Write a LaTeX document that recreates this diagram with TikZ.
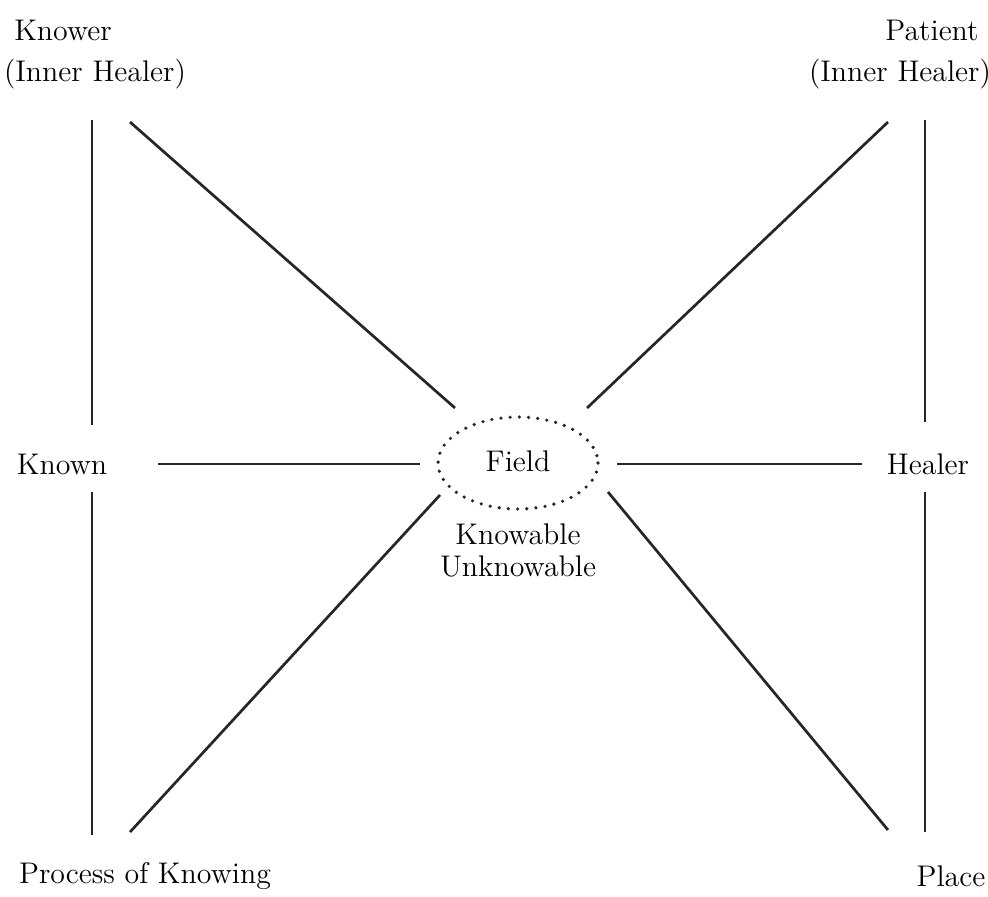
\documentclass[tikz,border=0pt]{standalone}
\begin{document}
\begin{tikzpicture}[x=0.5pt,y=-0.5pt,
  lbl/.style={inner sep=0pt,font=\fontsize{14.5}{17}\selectfont,scale=1.03},
  ln/.style={line width=1.35pt,black!85},
  dotring/.style={draw,line width=1.8pt,dash pattern=on 0pt off 4.6pt,line cap=round,black!85}]
\useasboundingbox (0,0) rectangle (988,896);
% labels
\node[lbl] (knower) at (63,30) {Knower};
\node[lbl] (knowerih) at (95,74) {(Inner Healer)};
\node[lbl] (patient) at (932,30) {Patient};
\node[lbl] (patientih) at (900,74) {(Inner Healer)};
\node[lbl] (known) at (62,464) {Known};
\node[lbl] (healer) at (928,464) {Healer};
\node[lbl] (process) at (145,876) {Process of Knowing};
\node[lbl] (place) at (951,876) {Place};
\node[lbl] (knowable) at (518,534) {Knowable};
\node[lbl] (unknowable) at (518,566) {Unknowable};
% field
\draw[dotring] (518,463) ellipse [x radius=80, y radius=46];
\node[lbl] (field) at (518,461) {Field};
% endpoints
\coordinate (lv1a) at (92,120); \coordinate (lv1b) at (92,425);
\coordinate (lv2a) at (92,492); \coordinate (lv2b) at (92,835);
\coordinate (rv1a) at (925,120); \coordinate (rv1b) at (925,422);
\coordinate (rv2a) at (925,492); \coordinate (rv2b) at (925,832);
\coordinate (hla) at (158,464); \coordinate (hlb) at (420,464);
\coordinate (hra) at (617,464); \coordinate (hrb) at (862,464);
\coordinate (tla) at (130,122); \coordinate (tlb) at (455,408);
\coordinate (tra) at (888,122); \coordinate (trb) at (587,408);
\coordinate (bla) at (130,832); \coordinate (blb) at (440,495);
\coordinate (bra) at (888,830); \coordinate (brb) at (608,492);
% lines
\draw[ln] (lv1a) -- (lv1b);
\draw[ln] (lv2a) -- (lv2b);
\draw[ln] (rv1a) -- (rv1b);
\draw[ln] (rv2a) -- (rv2b);
\draw[ln] (hla) -- (hlb);
\draw[ln] (hra) -- (hrb);
\draw[ln] (tla) -- (tlb);
\draw[ln] (tra) -- (trb);
\draw[ln] (bla) -- (blb);
\draw[ln] (bra) -- (brb);
\end{tikzpicture}
\end{document}
